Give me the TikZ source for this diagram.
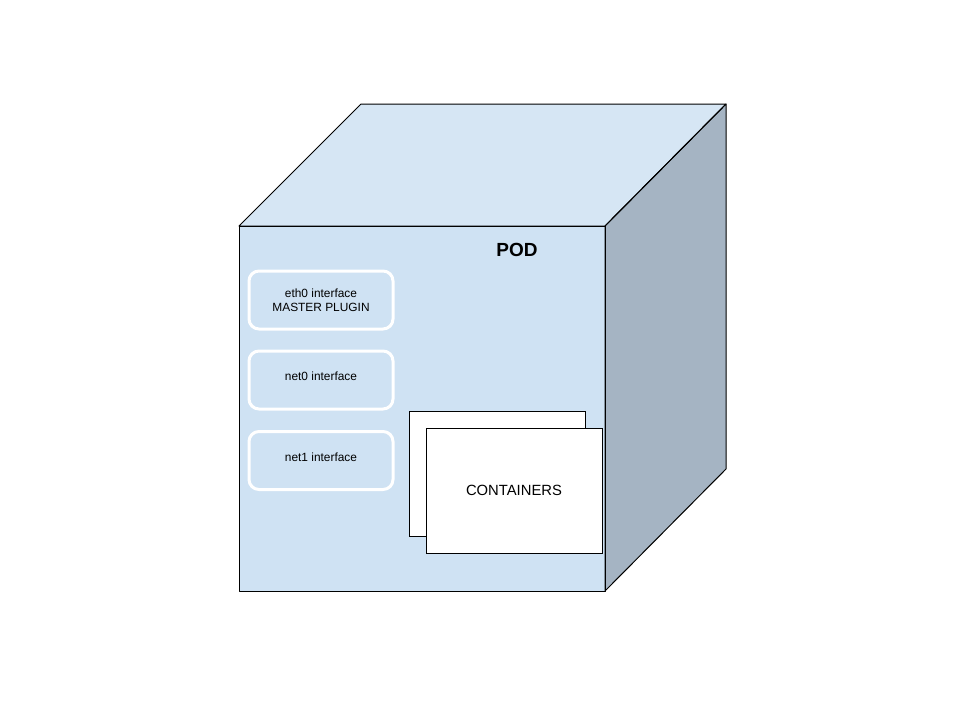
\documentclass[tikz,border=0pt]{standalone}
\usepackage{fontspec}
\setmainfont{Liberation Sans}
\definecolor{frontc}{HTML}{CFE2F3}
\definecolor{topc}{HTML}{D6E6F4}
\definecolor{sidec}{HTML}{A5B4C3}
\begin{document}
\begin{tikzpicture}[x=1pt,y=-1pt,
  face/.style={draw=black,line width=1pt,line join=round},
  iface/.style={draw=white,line width=3pt,rounded corners=10pt,minimum width=144pt,minimum height=58pt,align=center,font=\fontsize{11.9}{14.5}\selectfont,inner sep=0pt},
  ione/.style={iface,text height=9pt,text depth=8pt},
  cont/.style={draw=black,fill=white,line width=1pt,minimum width=176pt,minimum height=125pt,inner sep=0pt,font=\fontsize{14.8}{16}\selectfont}]
\useasboundingbox (0,0) rectangle (960,720);
\coordinate (A) at (239,226);
\coordinate (B) at (605,226);
\coordinate (C) at (605,591);
\coordinate (D) at (239,591);
\coordinate (E) at (361,104);
\coordinate (F) at (726,104);
\coordinate (G) at (726,469);
\fill[topc] (A) -- (E) -- (F) -- (B) -- cycle;
\fill[sidec] (B) -- (F) -- (G) -- (C) -- cycle;
\fill[frontc] (A) rectangle (C);
\draw[face] (A) -- (E) -- (F) -- (B) -- cycle;
\draw[face] (B) -- (F) -- (G) -- (C) -- cycle;
\draw[face] (A) rectangle (C);
\node[font=\bfseries\fontsize{19}{21}\selectfont] (pod) at (517,250) {POD};
\node[iface] (eth0) at (321,300) {eth0 interface\\MASTER PLUGIN};
\node[ione] (net0) at (321,380) {net0 interface};
\node[ione] (net1) at (321,460.5) {net1 interface};
\node[cont] (c1) at (497.5,474) {};
\node[cont] (c2) at (514,490.5) {CONTAINERS};
\end{tikzpicture}
\end{document}
